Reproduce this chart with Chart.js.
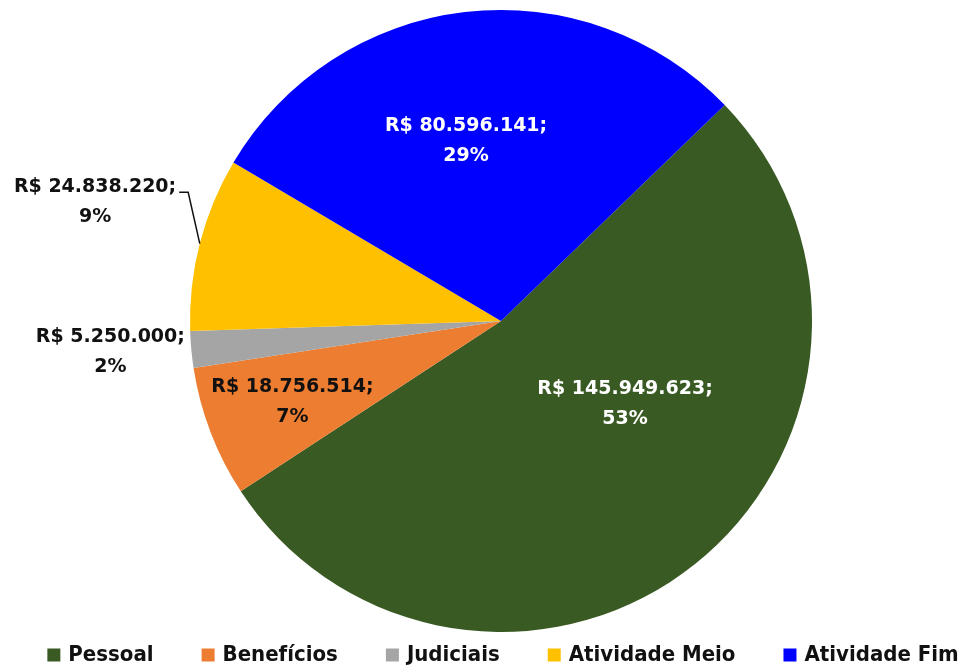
<!DOCTYPE html>
<html>
<head>
<meta charset="utf-8">
<script src="https://cdn.jsdelivr.net/npm/chart.js@4.4.1/dist/chart.umd.min.js"></script>
<style>
  html, body { margin: 0; padding: 0; background: #fff; }
  #caixa { width: 967px; height: 668px; position: relative; }
</style>
</head>
<body>
<div id="caixa"><canvas id="pizzaChart"></canvas></div>
<script>
// Dados do gráfico
const categorias = ['Pessoal', 'Benefícios', 'Judiciais', 'Atividade Meio', 'Atividade Fim'];
const valores = [145949623, 18756514, 5250000, 24838220, 80596141];
const cores = ['#3A5A24', '#ED7D31', '#A5A5A5', '#FFC000', '#0000FF'];

// posição dos rótulos (deslocamento de ângulo em graus, distância relativa ao raio)
const posRotulos = [
    { giro: -17.6, dist: 0.48, cor: '#ffffff' },
    { giro: -0.4, dist: 0.72, cor: '#111111' },
    { giro: 0.7, dist: 1.26, cor: '#111111' },
    { giro: 1.9, dist: 1.36, cor: '#111111', guia: true },
    { giro: -4.3, dist: 0.59, cor: '#ffffff' }
];

function formatarReais(v) {
    return 'R$ ' + String(v).replace(/\B(?=(\d{3})+(?!\d))/g, '.');
}

const fonteRotulo = 'bold 19px "DejaVu Sans", Verdana, sans-serif';
const fonteLegenda = 'bold 22px "DejaVu Sans Condensed", "Liberation Sans Narrow", "DejaVu Sans", sans-serif';

const pluginRotulos = {
    id: 'rotulos',
    afterDatasetsDraw(chart) {
        const ctx = chart.ctx;
        const meta = chart.getDatasetMeta(0);
        const total = valores.reduce((a, b) => a + b, 0);
        ctx.save();
        ctx.font = fonteRotulo;
        ctx.textAlign = 'center';
        ctx.textBaseline = 'middle';
        meta.data.forEach((arco, i) => {
            const p = arco.getProps(['x', 'y', 'startAngle', 'endAngle', 'outerRadius'], true);
            const cfg = posRotulos[i];
            const meio = (p.startAngle + p.endAngle) / 2;
            const ang = meio + cfg.giro * Math.PI / 180;
            const cx = p.x + Math.cos(ang) * p.outerRadius * cfg.dist;
            const cy = p.y + Math.sin(ang) * p.outerRadius * cfg.dist;
            const linha1 = formatarReais(valores[i]) + ';';
            const linha2 = Math.round(valores[i] / total * 100) + '%';
            ctx.fillStyle = cfg.cor;
            ctx.fillText(linha1, cx, cy - 15);
            ctx.fillText(linha2, cx, cy + 15);
            if (cfg.guia) {
                const larg = ctx.measureText(linha1).width;
                const xFim = cx + larg / 2 + 3;
                const yFim = cy - 10;
                const bx = p.x + Math.cos(meio) * p.outerRadius;
                const by = p.y + Math.sin(meio) * p.outerRadius;
                ctx.strokeStyle = '#111111';
                ctx.lineWidth = 1.5;
                ctx.beginPath();
                ctx.moveTo(xFim, yFim);
                ctx.lineTo(xFim + 9, yFim);
                ctx.lineTo(bx, by);
                ctx.stroke();
            }
        });
        ctx.restore();
    }
};

const pluginLegenda = {
    id: 'legendaBaixo',
    afterDraw(chart) {
        const ctx = chart.ctx;
        ctx.save();
        ctx.font = fonteLegenda;
        ctx.textBaseline = 'middle';
        ctx.textAlign = 'left';
        const caixa = 13, folga = 8, espaco = 48;
        const larguras = categorias.map(c => ctx.measureText(c).width);
        const total = larguras.reduce((a, w) => a + caixa + folga + w, 0) + espaco * (categorias.length - 1);
        let x = 503 - total / 2;
        const y = 655;
        categorias.forEach((c, i) => {
            ctx.fillStyle = cores[i];
            ctx.fillRect(x, y - caixa / 2, caixa, caixa);
            ctx.fillStyle = '#111111';
            ctx.fillText(c, x + caixa + folga, y);
            x += caixa + folga + larguras[i] + espaco;
        });
        ctx.restore();
    }
};

document.addEventListener('DOMContentLoaded', function() {
    const ctx = document.getElementById('pizzaChart').getContext('2d');
    new Chart(ctx, {
        type: 'pie',
        data: {
            labels: categorias,
            datasets: [{
                data: valores,
                backgroundColor: cores,
                borderWidth: 0
            }]
        },
        options: {
            responsive: true,
            maintainAspectRatio: false,
            animation: false,
            rotation: 46,
            layout: { padding: { top: 10, bottom: 36, left: 35, right: 0 } },
            plugins: {
                legend: { display: false },
                tooltip: { enabled: false }
            }
        },
        plugins: [pluginRotulos, pluginLegenda]
    });
});
</script>
</body>
</html>
